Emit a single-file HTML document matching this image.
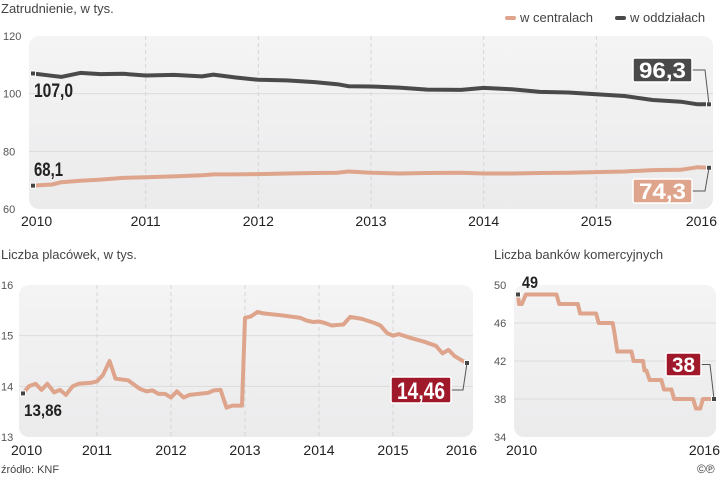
<!DOCTYPE html>
<html><head><meta charset="utf-8">
<style>
body{margin:0;background:#fff;width:720px;height:478px;overflow:hidden;font-family:"Liberation Sans",sans-serif}
svg{display:block}
.t{font-family:"Liberation Sans",sans-serif;fill:#444}
.ax{font-size:11px;fill:#555}
.yr{font-size:14px;fill:#222}
.lbl{font-family:"Liberation Sans",sans-serif;font-weight:bold}
</style></head>
<body>
<svg id="c" width="720" height="478" viewBox="0 0 720 478" xmlns="http://www.w3.org/2000/svg">
<defs>
<linearGradient id="bg" x1="0" y1="0" x2="0" y2="1"><stop offset="0" stop-color="#f4f4f5"/><stop offset="1" stop-color="#ebebec"/></linearGradient>
</defs>
</svg>
<script>
// ---- Chart 1: employment ----
const empYears=[2010,2010.17,2010.25,2010.42,2010.6,2010.8,2011,2011.25,2011.5,2011.6,2011.8,2012,2012.25,2012.5,2012.7,2012.8,2013,2013.25,2013.5,2013.8,2014,2014.25,2014.5,2014.75,2015,2015.25,2015.5,2015.75,2015.9,2016];
const branchStaff=[107.0,106.2,105.8,107.2,106.8,106.9,106.3,106.5,106.0,106.6,105.6,104.8,104.6,104.0,103.3,102.6,102.5,102.1,101.4,101.3,102.0,101.5,100.6,100.4,99.8,99.2,97.8,97.2,96.3,96.3];
const hqStaff=[68.1,68.5,69.3,69.8,70.2,70.8,71.0,71.3,71.7,72.0,72.0,72.1,72.3,72.5,72.6,73.0,72.6,72.3,72.5,72.6,72.3,72.3,72.5,72.6,72.8,73.0,73.5,73.6,74.5,74.3];
const empYTicks=[60,80,100,120];
const empXTicks=[2010,2011,2012,2013,2014,2015,2016];
// ---- Chart 2: branches ----
const brYears=[2010,2010.08,2010.17,2010.25,2010.33,2010.42,2010.5,2010.58,2010.67,2010.75,2010.92,2011,2011.08,2011.17,2011.25,2011.42,2011.58,2011.67,2011.75,2011.83,2011.92,2012,2012.08,2012.17,2012.25,2012.5,2012.58,2012.67,2012.75,2012.83,2012.96,2013.0,2013.08,2013.17,2013.25,2013.5,2013.75,2013.83,2013.92,2014,2014.08,2014.17,2014.33,2014.42,2014.58,2014.75,2014.83,2014.92,2015,2015.08,2015.25,2015.42,2015.58,2015.67,2015.75,2015.83,2015.92,2016];
const branches=[13.86,14.0,14.05,13.93,14.05,13.88,13.93,13.83,14.0,14.05,14.07,14.1,14.22,14.5,14.15,14.12,13.95,13.9,13.92,13.85,13.85,13.78,13.9,13.78,13.83,13.87,13.92,13.93,13.58,13.62,13.62,15.35,15.38,15.47,15.44,15.4,15.35,15.3,15.27,15.28,15.25,15.2,15.22,15.37,15.33,15.25,15.2,15.05,15.0,15.03,14.95,14.88,14.8,14.65,14.72,14.6,14.52,14.46];
const brYTicks=[13,14,15,16];
const brXTicks=[2010,2011,2012,2013,2014,2015,2016];
// ---- Chart 3: banks ----
const bkYears=[2010,2010.03,2010.12,2010.24,2011.18,2011.26,2011.83,2011.9,2012.39,2012.47,2012.9,2012.95,2013.04,2013.47,2013.54,2013.83,2013.87,2013.93,2014.03,2014.39,2014.47,2014.7,2014.78,2015.36,2015.45,2015.58,2015.66,2016];
const banks=[49,48,48,49,49,48,48,47,47,46,46,45,43,43,42,42,41,41,40,40,39,39,38,38,37,37,38,38];
const bkYTicks=[34,38,42,46,50];
const bkXTicks=[2010,2016];

const svg=document.getElementById('c');
const NS='http://www.w3.org/2000/svg';
function mk(tag,attrs,parent){const e=document.createElementNS(NS,tag);for(const k in attrs)e.setAttribute(k,attrs[k]);(parent||svg).appendChild(e);return e;}
function txt(s,attrs){const e=mk('text',attrs);e.textContent=s;return e;}

function chart(cfg){
  const g=mk('g',{});
  
  
  const sx=v=>cfg.x0+(v-cfg.xmin)/(cfg.xmax-cfg.xmin)*(cfg.x1-cfg.x0);
  const sy=v=>cfg.y1-(v-cfg.ymin)/(cfg.ymax-cfg.ymin)*(cfg.y1-cfg.y0);
  const bg=mk('rect',{x:cfg.bx0,y:cfg.y0,width:cfg.bx1-cfg.bx0,height:cfg.y1-cfg.y0,rx:10,fill:'url(#bg)'},g);
  
  
  cfg.yt.forEach(v=>{
    if(v!==cfg.ymin&&v!==cfg.ymax){const l=mk('line',{x1:cfg.bx0,x2:cfg.bx1,y1:sy(v),y2:sy(v),stroke:'#dcdcdc','stroke-width':1},g);
    
    }
    const t=txt(String(v),{x:cfg.ylx,y:sy(v)+4,class:'t ax','text-anchor':'start'});
    
    
  });
  cfg.xt.forEach((v,i)=>{
    if(cfg.vgrid&&i>0&&i<cfg.xt.length-1){const l=mk('line',{x1:sx(v),x2:sx(v),y1:cfg.y0,y2:cfg.y1,stroke:'#d6d6d6','stroke-dasharray':'4 3'},g);
    
    }
    let x=sx(v),anchor='middle';
    if(i===0){x=sx(v)-cfg.x0+cfg.bx0-8;anchor='start';}
    if(i===cfg.xt.length-1){x=cfg.bx1+4;anchor='end';}
    const t=txt(String(v),{x:x,y:cfg.xly,class:'t yr','text-anchor':anchor});
    
    
  });
  cfg.series.forEach(s=>{
    const d=s.xs.map((x,i)=>(i?'L':'M')+sx(x).toFixed(1)+','+sy(s.ys[i]).toFixed(1)).join('');
    const p=mk('path',{d:d,fill:'none',stroke:s.color,'stroke-width':4,'stroke-linejoin':'round','stroke-linecap':'round'},g);
    
    
    [0,s.xs.length-1].forEach(i=>{
      const m=mk('rect',{x:sx(s.xs[i])-2.5,y:sy(s.ys[i])-2.5,width:5,height:5,fill:'#444',stroke:'#fff','stroke-width':1},g);
      
      
    });
  });
  return {sx,sy};
}

const c1=chart({name:'employment-chart',x0:33,x1:709,xmin:2010,xmax:2016,y0:36,y1:209,ymin:60,ymax:120,bx0:29,bx1:713,ylx:3,xly:226,vgrid:true,yt:empYTicks,xt:empXTicks,
  series:[{name:'branch-staff-line',xs:empYears,ys:branchStaff,color:'#4a4a4a'},{name:'hq-staff-line',xs:empYears,ys:hqStaff,color:'#dea58c'}]});
const c2=chart({name:'branches-chart',x0:23,x1:467,xmin:2010,xmax:2016,y0:285,y1:437,ymin:13,ymax:16,bx0:19,bx1:473,ylx:1,xly:455,vgrid:true,yt:brYTicks,xt:brXTicks,
  series:[{name:'branches-line',xs:brYears,ys:branches,color:'#dea58c'}]});
const c3=chart({name:'banks-chart',x0:518,x1:714,xmin:2010,xmax:2016,y0:285,y1:437,ymin:34,ymax:50,bx0:514,bx1:716,ylx:494,xly:455,vgrid:false,yt:bkYTicks,xt:bkXTicks,
  series:[{name:'banks-line',xs:bkYears,ys:banks,color:'#dea58c'}]});

function plain(s,x,y,size,w,name){const t=txt(s,{x:x,y:y,class:'lbl','font-size':size,fill:'#222',textLength:w,lengthAdjust:'spacingAndGlyphs'});
  
  }
function box(s,x,y,w,h,fill,px,py,name){
  const g=mk('g',{});
  
  
  mk('polyline',{points:`${x+w},${y+h/2} ${px-4},${y+h/2} ${px},${py}`,fill:'none',stroke:'#555','stroke-width':1},g);
  mk('rect',{x:x,y:y,width:w,height:h,rx:2,fill:fill,stroke:'#fff','stroke-width':1.5},g);
  const t=mk('text',{x:x+w/2,y:y+h-4,'text-anchor':'middle',class:'lbl','font-size':h-2,fill:'#fff',textLength:w-12,lengthAdjust:'spacingAndGlyphs'},g);t.textContent=s;
}
plain('107,0',34,97,19,39,'branch-start-label');
plain('68,1',34,176,19,29,'hq-start-label');
box('96,3',633,58,59,24,'#4a4a4a',c1.sx(2016),c1.sy(96.3),'branch-end-label');
box('74,3',633,179,59,24,'#dea58c',c1.sx(2016),c1.sy(74.3),'hq-end-label');
plain('13,86',24,416,17,38,'branches-start-label');
box('14,46',391,377,60,26,'#a0192a',c2.sx(2016),c2.sy(14.46),'branches-end-label');
plain('49',522,288,17,16,'banks-start-label');
box('38',666,353,35,23,'#a0192a',c3.sx(2016),c3.sy(38),'banks-end-label');

function label(s,x,y,size,name,fill){const t=txt(s,{x:x,y:y,class:'t','font-size':size,fill:fill||'#444'});
  
  }
label('Zatrudnienie, w tys.',1,13,13,'employment-title');
label('Liczba placówek, w tys.',1,259,13,'branches-title');
label('Liczba  banków komercyjnych',494,259,13,'banks-title');
label('źródło: KNF',1,473,11,'source-note','#555');
label('©℗',697,473,12,'copyright-mark','#222');
// legend
const lg=mk('g',{});


mk('line',{x1:507,x2:514,y1:18,y2:18,stroke:'#dea58c','stroke-width':4,'stroke-linecap':'round'},lg);
let lt=mk('text',{x:520,y:22,class:'t','font-size':13},lg);lt.textContent='w centralach';
mk('line',{x1:617,x2:624,y1:18,y2:18,stroke:'#4a4a4a','stroke-width':4,'stroke-linecap':'round'},lg);
lt=mk('text',{x:630,y:22,class:'t','font-size':13},lg);lt.textContent='w oddziałach';
</script>
</body></html>
